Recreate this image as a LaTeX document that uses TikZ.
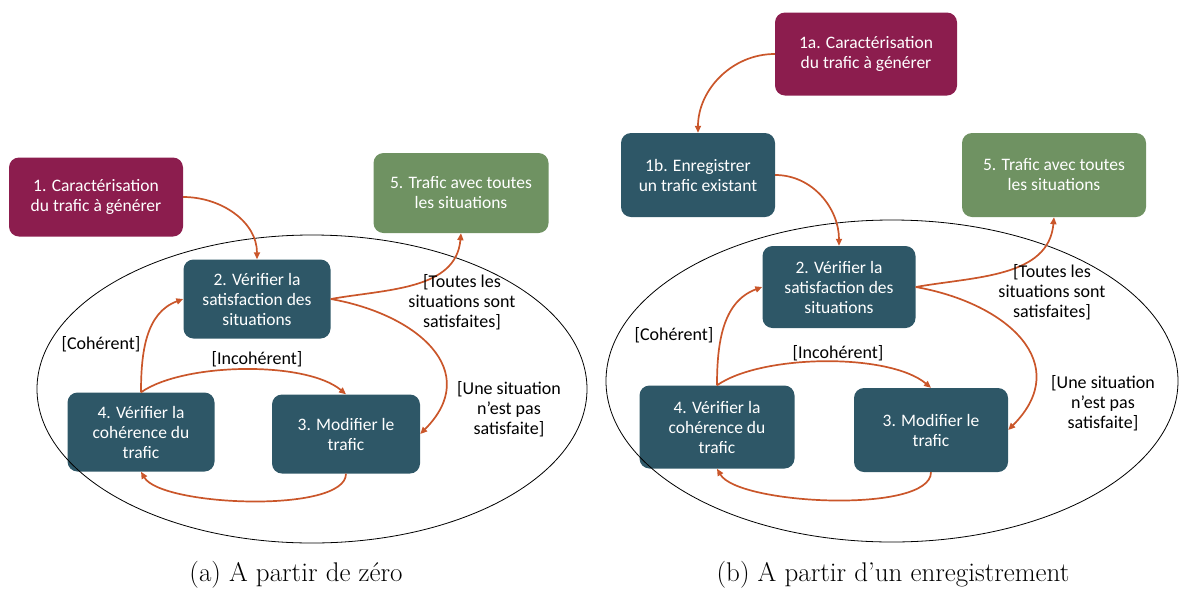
\documentclass[tikz,border=0pt]{standalone}
\usepackage{fontspec}
\newfontfamily\boxfont{Carlito}
\usepackage{tikz}
\usetikzlibrary{arrows.meta}

\definecolor{carcol}{HTML}{8C1D4E}
\definecolor{stepcol}{HTML}{2E5767}
\definecolor{fincol}{HTML}{6F9262}
\definecolor{arrcol}{HTML}{CA562A}

\begin{document}
\begin{tikzpicture}[x=1pt,y=1pt,
    box/.style={rounded corners=10pt, text=white, align=center, inner sep=0pt,
        font=\boxfont\fontsize{17.5}{20}\selectfont},
    cbox/.style={box, fill=carcol},
    sbox/.style={box, fill=stepcol},
    fbox/.style={box, fill=fincol},
    flow/.style={arrcol, line width=1.7pt, -{Triangle[length=7pt,width=6pt]}},
    lab/.style={align=center, font=\boxfont\fontsize{18}{20}\selectfont},
    captext/.style={font=\fontsize{27}{30}\selectfont}]
        \useasboundingbox (0,0) rectangle (1179,-590);
        % (a) boxes
        \node[cbox, minimum width=174, minimum height=79] (carA) at (96,-197) {1. Caractérisation\\du trafic à générer};
        \node[fbox, minimum width=175, minimum height=80] (finA) at (461,-193) {5. Trafic avec toutes\\les situations};
        \node[sbox, minimum width=147, minimum height=79] (verA) at (257,-299) {2. Vérifier la\\satisfaction des\\situations};
        \node[sbox, minimum width=147, minimum height=79] (cohA) at (141,-432) {4. Vérifier la\\cohérence du\\trafic};
        \node[sbox, minimum width=148, minimum height=79] (modA) at (346,-434) {3. Modifier le\\trafic};
        % (b) boxes
        \node[cbox, minimum width=182, minimum height=83] (carB) at (866,-54) {1a. Caractérisation\\du trafic à générer};
        \node[sbox, minimum width=154, minimum height=84] (regB) at (698,-175) {1b. Enregistrer\\un trafic existant};
        \node[fbox, minimum width=184, minimum height=84] (finB) at (1054,-175) {5. Trafic avec toutes\\les situations};
        \node[sbox, minimum width=153, minimum height=82] (verB) at (839,-287) {2. Vérifier la\\satisfaction des\\situations};
        \node[sbox, minimum width=155, minimum height=83] (cohB) at (717,-427) {4. Vérifier la\\cohérence du\\trafic};
        \node[sbox, minimum width=154, minimum height=84] (modB) at (931,-430) {3. Modifier le\\trafic};
        % Loop ellipses
        \foreach \cx/\cy/\rx/\ry in {312/-389/275/154, 892/-381/286/161} {
            \draw[line width=0.8pt] (\cx,\cy) ellipse [x radius=\rx, y radius=\ry];
        }
        % (a) arrows
        \draw[flow] (carA.east) to[out=0,in=90] (verA.north);
        \draw[flow] (verA.east) to[out=10,in=-95] (finA.south);
        \draw[flow] (verA.east) to[out=-10,in=45,looseness=1.4] (modA.east);
        \draw[flow] (cohA.north) to[out=90,in=200] (verA.west);
        \draw[flow] (cohA.north) to[out=35,in=140,looseness=0.65] (modA.north);
        \draw[flow] (modA.south) to[out=-90,in=-60,looseness=0.5] (cohA.south);
        % (b) arrows
        \draw[flow] (carB.west) to[out=180,in=90] (regB.north);
        \draw[flow] (regB.east) to[out=0,in=90] (verB.north);
        \draw[flow] (verB.east) to[out=10,in=-95] (finB.south);
        \draw[flow] (verB.east) to[out=-10,in=45,looseness=1.4] (modB.east);
        \draw[flow] (cohB.north) to[out=90,in=200] (verB.west);
        \draw[flow] (cohB.north) to[out=35,in=140,looseness=0.65] (modB.north);
        \draw[flow] (modB.south) to[out=-90,in=-60,looseness=0.5] (cohB.south);
        % Add labels
        \node[lab] (allA) at (462,-302) {[Toutes les\\situations sont\\satisfaites]};
        \node[lab] (oneA) at (509,-409) {[Une situation\\n’est pas\\satisfaite]};
        \node[lab] (okA) at (101,-344) {[Cohérent]};
        \node[lab] (nokA) at (257,-359) {[Incohérent]};
        \node[lab] (allB) at (1052,-292) {[Toutes les\\situations sont\\satisfaites]};
        \node[lab] (oneB) at (1103,-403) {[Une situation\\n’est pas\\satisfaite]};
        \node[lab] (okB) at (674,-335) {[Cohérent]};
        \node[lab] (nokB) at (838,-353) {[Incohérent]};
        % Captions
        \node[captext] (capA) at (296,-575) {(a) A partir de zéro};
        \node[captext] (capB) at (893,-575) {(b) A partir d’un enregistrement};
        \end{tikzpicture}
\end{document}
